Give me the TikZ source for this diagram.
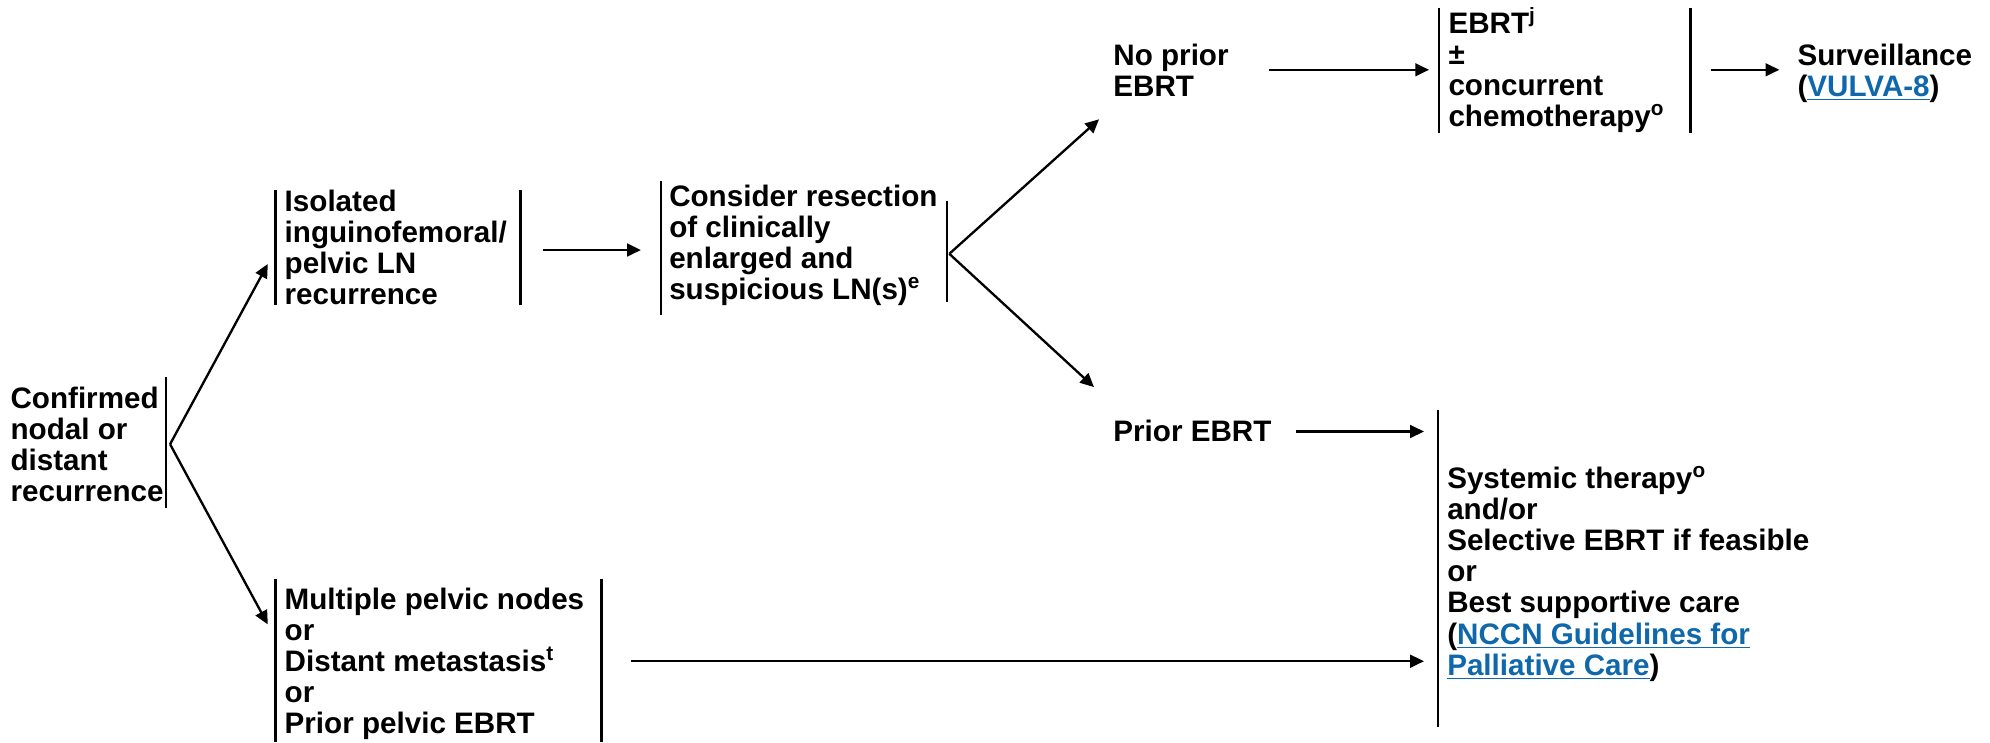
\documentclass[tikz,border=0pt]{standalone}
\usepackage{fontspec}
\setmainfont{Liberation Sans}
\usetikzlibrary{arrows.meta}
\definecolor{linkblue}{RGB}{15,104,172}
\newcommand{\lnk}[1]{\textcolor{linkblue}{\underline{#1}}}
\begin{document}
\begin{tikzpicture}[x=0.6pt,y=-0.6pt,
  txt/.style={font=\bfseries\fontsize{14}{14.7}\selectfont, align=left, inner sep=0pt, anchor=base west},
  bar/.style={line width=1.1pt},
  arr/.style={line width=1.1pt, -{Triangle[length=6.5pt,width=6pt]}}]
\useasboundingbox (0,0) rectangle (1568,585);

% Confirmed
\node[txt] (conf) at (8,395) {Confirmed\\nodal or\\distant\\recurrence};
\draw[bar] (131,297) -- (131,400);
\coordinate (a1) at (134,350);

% Isolated
\node[txt] (iso) at (224,240) {Isolated\\inguinofemoral/\\pelvic LN\\recurrence};
\draw[bar] (217,150) -- (217,240);
\draw[bar] (410,150) -- (410,240);
\coordinate (isoin) at (211,208);
\draw[arr] (a1) -- (isoin);

% Multiple
\node[txt] (mult) at (224,578) {Multiple pelvic nodes\\or\\Distant metastasis\textsuperscript{t}\\or\\Prior pelvic EBRT};
\draw[bar] (217,456) -- (217,585);
\draw[bar] (474,456) -- (474,585);
\coordinate (multin) at (211,492);
\draw[arr] (a1) -- (multin);

% Consider
\coordinate (isoout) at (428,197);
\coordinate (consin) at (505,197);
\draw[arr] (isoout) -- (consin);
\node[txt] (cons) at (527,236) {Consider resection\\of clinically\\enlarged and\\suspicious LN(s)\textsuperscript{e}};
\draw[bar] (521,143) -- (521,248);
\draw[bar] (746,158) -- (746,238);
\coordinate (a2) at (748,200);
\coordinate (nopin) at (866,94);
\coordinate (prin) at (862,305);
\draw[arr] (a2) -- (nopin);
\draw[arr] (a2) -- (prin);

% No prior EBRT
\node[txt] (noprior) at (877,76) {No prior\\EBRT};
\coordinate (nopout) at (1000,55);
\coordinate (ebrtin) at (1126,55);
\draw[arr] (nopout) -- (ebrtin);

% EBRT box
\node[txt] (ebrt) at (1141,100) {EBRT\textsuperscript{j}\\\textpm\\concurrent\\chemotherapy\textsuperscript{o}};
\draw[bar] (1134,6) -- (1134,105);
\draw[bar] (1332,6) -- (1332,105);
\coordinate (ebrtout) at (1348,55);
\coordinate (survin) at (1402,55);
\draw[arr] (ebrtout) -- (survin);

% Surveillance
\node[txt] (surv) at (1416,76) {Surveillance\\(\lnk{VULVA-8})};

% Prior EBRT
\node[txt] (prior) at (877,348) {Prior EBRT};
\coordinate (prout) at (1021,340);
\coordinate (sysin1) at (1122,340);
\draw[arr] (prout) -- (sysin1);

% Systemic
\node[txt] (sys) at (1140,532) {Systemic therapy\textsuperscript{o}\\and/or\\Selective EBRT if feasible\\or\\Best supportive care\\(\lnk{NCCN Guidelines for}\\\lnk{Palliative Care})};
\draw[bar] (1133,323) -- (1133,573);
\coordinate (multout) at (497,521);
\coordinate (sysin2) at (1122,521);
\draw[arr] (multout) -- (sysin2);
\end{tikzpicture}
\end{document}
